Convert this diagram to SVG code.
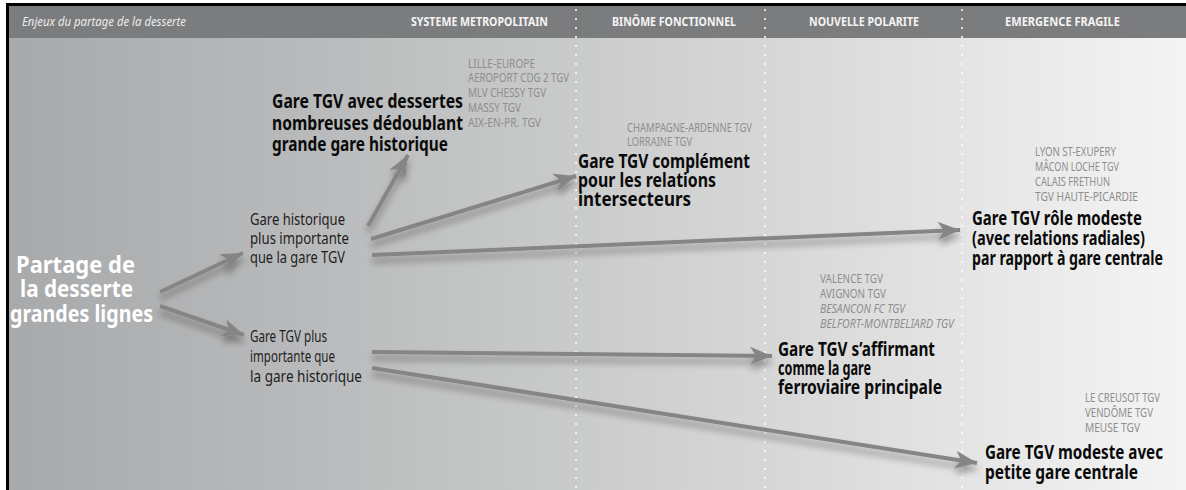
<svg xmlns="http://www.w3.org/2000/svg" width="1186" height="490" viewBox="0 0 1186 490">
<style>
text{font-family:"Noto Sans","Liberation Sans",Arial,sans-serif;font-stretch:condensed}
.hd{font-weight:bold;font-size:13px;fill:#f4f4f4}
.hi{font-style:italic;font-size:13px;fill:#ececec}
.big{font-weight:bold;font-size:24px;fill:#ffffff}
.mid{font-size:16px;fill:#1e1e1e}
.ttl{font-weight:bold;font-size:19px;fill:#0a0a0a}
.lst{font-size:12px;fill:#8e8e8e}
.it{font-style:italic}
.end{text-anchor:end}
.sep{stroke:#ffffff;stroke-opacity:0.75;stroke-width:2;stroke-dasharray:2 7}
.con{stroke:#858585;stroke-width:4;fill:none;marker-end:url(#ah)}
</style>
<defs>
<linearGradient id="bg" x1="8" y1="0" x2="1186" y2="0" gradientUnits="userSpaceOnUse">
<stop offset="0" stop-color="#a8a9ab"/>
<stop offset="0.3" stop-color="#bcbdbe"/>
<stop offset="0.5" stop-color="#cbcccc"/>
<stop offset="0.7" stop-color="#dbdbdb"/>
<stop offset="0.85" stop-color="#e8e8e8"/>
<stop offset="1" stop-color="#f4f4f4"/>
</linearGradient>
<marker id="ah" markerUnits="userSpaceOnUse" markerWidth="24" markerHeight="20" viewBox="0 0 24 20" refX="22" refY="10" orient="auto">
<path d="M0,1 L22,10 L0,19 L6,10 Z" fill="#858585"/>
</marker>
<filter id="sh" x="-10%" y="-50%" width="120%" height="200%">
<feGaussianBlur in="SourceAlpha" stdDeviation="3.5"/>
<feOffset dx="0" dy="6" result="b"/>
<feComponentTransfer><feFuncA type="linear" slope="0.35"/></feComponentTransfer>
<feMerge><feMergeNode/><feMergeNode in="SourceGraphic"/></feMerge>
</filter>
</defs>

<rect x="0" y="0" width="1186" height="490" fill="#ffffff"/>
<rect x="8" y="38" width="1178" height="452" fill="url(#bg)"/>
<rect x="8" y="6" width="1178" height="32" fill="#7b7c7e"/>
<rect x="6" y="3" width="1180" height="3" fill="#000000"/>
<rect x="6" y="3" width="3" height="487" fill="#000000"/>

<g id="separators">
<line class="sep" x1="576" y1="9" x2="576" y2="490"/>
<line class="sep" x1="765" y1="9" x2="765" y2="490"/>
<line class="sep" x1="962" y1="9" x2="962" y2="490"/>
</g>

<g id="header">
<text class="hi" x="22" y="26" textLength="164" lengthAdjust="spacingAndGlyphs">Enjeux du partage de la desserte</text>
<text class="hd" x="411" y="26" textLength="137" lengthAdjust="spacingAndGlyphs">SYSTEME METROPOLITAIN</text>
<text class="hd" x="612" y="26" textLength="124" lengthAdjust="spacingAndGlyphs">BINÔME FONCTIONNEL</text>
<text class="hd" x="809" y="26" textLength="110" lengthAdjust="spacingAndGlyphs">NOUVELLE POLARITE</text>
<text class="hd" x="1005" y="26" textLength="115" lengthAdjust="spacingAndGlyphs">EMERGENCE FRAGILE</text>
</g>

<g id="connectors" filter="url(#sh)">
<line class="con" x1="160" y1="292" x2="243" y2="253"/>
<line class="con" x1="160" y1="306" x2="244" y2="335"/>
<line class="con" x1="368" y1="226" x2="408" y2="155"/>
<line class="con" x1="371" y1="239" x2="576" y2="176"/>
<line class="con" x1="372" y1="255" x2="960" y2="230"/>
<line class="con" x1="372" y1="352" x2="772" y2="356"/>
<line class="con" x1="372" y1="368" x2="977" y2="463"/>
</g>

<g id="node-root">
<text class="big"><tspan x="16" y="273" textLength="119" lengthAdjust="spacingAndGlyphs">Partage de</tspan><tspan x="20" y="297" textLength="113" lengthAdjust="spacingAndGlyphs">la desserte</tspan><tspan x="10" y="322" textLength="143" lengthAdjust="spacingAndGlyphs">grandes lignes</tspan></text>
</g>

<g id="node-historique">
<text class="mid"><tspan x="250" y="225" textLength="95" lengthAdjust="spacingAndGlyphs">Gare historique</tspan><tspan x="250" y="244" textLength="99" lengthAdjust="spacingAndGlyphs">plus importante</tspan><tspan x="250" y="263" textLength="95" lengthAdjust="spacingAndGlyphs">que la gare TGV</tspan></text>
</g>

<g id="node-tgv">
<text class="mid"><tspan x="250" y="342" textLength="77" lengthAdjust="spacingAndGlyphs">Gare TGV plus</tspan><tspan x="250" y="362" textLength="85" lengthAdjust="spacingAndGlyphs">importante que</tspan><tspan x="250" y="382" textLength="112" lengthAdjust="spacingAndGlyphs">la gare historique</tspan></text>
</g>

<g id="node-metropolitain">
<text class="ttl end"><tspan x="463" y="108" textLength="191" lengthAdjust="spacingAndGlyphs">Gare TGV avec dessertes</tspan><tspan x="463" y="130" textLength="191" lengthAdjust="spacingAndGlyphs">nombreuses dédoublant</tspan><tspan x="448" y="151" textLength="176" lengthAdjust="spacingAndGlyphs">grande gare historique</tspan></text>
<text class="lst"><tspan x="468" y="68" textLength="67" lengthAdjust="spacingAndGlyphs">LILLE-EUROPE</tspan><tspan x="468" y="82" textLength="101" lengthAdjust="spacingAndGlyphs">AEROPORT CDG 2 TGV</tspan><tspan x="468" y="97" textLength="78" lengthAdjust="spacingAndGlyphs">MLV CHESSY TGV</tspan><tspan x="468" y="112" textLength="53" lengthAdjust="spacingAndGlyphs">MASSY TGV</tspan><tspan x="468" y="127" textLength="73" lengthAdjust="spacingAndGlyphs">AIX-EN-PR. TGV</tspan></text>
</g>

<g id="node-binome">
<text class="lst"><tspan x="627" y="132" textLength="125" lengthAdjust="spacingAndGlyphs">CHAMPAGNE-ARDENNE TGV</tspan><tspan x="627" y="146" textLength="65" lengthAdjust="spacingAndGlyphs">LORRAINE TGV</tspan></text>
<text class="ttl"><tspan x="578" y="168" textLength="172" lengthAdjust="spacingAndGlyphs">Gare TGV complément</tspan><tspan x="578" y="187" textLength="138" lengthAdjust="spacingAndGlyphs">pour les relations</tspan><tspan x="578" y="206" textLength="113" lengthAdjust="spacingAndGlyphs">intersecteurs</tspan></text>
</g>

<g id="node-radiales">
<text class="lst"><tspan x="1035" y="156" textLength="81" lengthAdjust="spacingAndGlyphs">LYON ST-EXUPERY</tspan><tspan x="1035" y="171" textLength="84" lengthAdjust="spacingAndGlyphs">MÂCON LOCHE TGV</tspan><tspan x="1035" y="186" textLength="75" lengthAdjust="spacingAndGlyphs">CALAIS FRETHUN</tspan><tspan x="1035" y="201" textLength="103" lengthAdjust="spacingAndGlyphs">TGV HAUTE-PICARDIE</tspan></text>
<text class="ttl end"><tspan x="1142" y="225" textLength="170" lengthAdjust="spacingAndGlyphs">Gare TGV rôle modeste</tspan><tspan x="1145" y="245" textLength="173" lengthAdjust="spacingAndGlyphs">(avec relations radiales)</tspan><tspan x="1163" y="265" textLength="191" lengthAdjust="spacingAndGlyphs">par rapport à gare centrale</tspan></text>
</g>

<g id="node-affirmant">
<text class="lst"><tspan x="820" y="283" textLength="63" lengthAdjust="spacingAndGlyphs">VALENCE TGV</tspan><tspan x="820" y="298" textLength="66" lengthAdjust="spacingAndGlyphs">AVIGNON TGV</tspan><tspan class="it" x="820" y="313" textLength="85" lengthAdjust="spacingAndGlyphs">BESANCON FC TGV</tspan><tspan class="it" x="820" y="328" textLength="134" lengthAdjust="spacingAndGlyphs">BELFORT-MONTBELIARD TGV</tspan></text>
<text class="ttl"><tspan x="778" y="356" textLength="157" lengthAdjust="spacingAndGlyphs">Gare TGV s’affirmant</tspan><tspan x="778" y="375" textLength="93" lengthAdjust="spacingAndGlyphs">comme la gare</tspan><tspan x="778" y="394" textLength="164" lengthAdjust="spacingAndGlyphs">ferroviaire principale</tspan></text>
</g>

<g id="node-modeste">
<text class="lst"><tspan x="1085" y="402" textLength="75" lengthAdjust="spacingAndGlyphs">LE CREUSOT TGV</tspan><tspan x="1085" y="417" textLength="68" lengthAdjust="spacingAndGlyphs">VENDÔME TGV</tspan><tspan x="1085" y="432" textLength="55" lengthAdjust="spacingAndGlyphs">MEUSE TGV</tspan></text>
<text class="ttl end"><tspan x="1163" y="459" textLength="178" lengthAdjust="spacingAndGlyphs">Gare TGV modeste avec</tspan><tspan x="1138" y="479" textLength="153" lengthAdjust="spacingAndGlyphs">petite gare centrale</tspan></text>
</g>
</svg>
